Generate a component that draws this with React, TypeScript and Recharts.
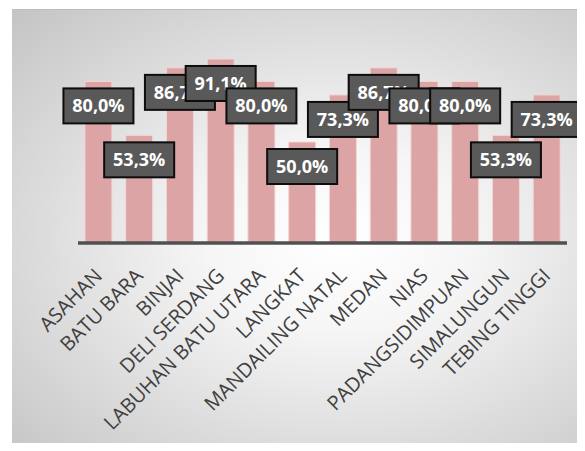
import React from "react";
import { BarChart, Bar, XAxis, YAxis, LabelList } from "recharts";

// Regional percentages (share of respondents), North Sumatra
const regions = [
  "ASAHAN",
  "BATU BARA",
  "BINJAI",
  "DELI SERDANG",
  "LABUHAN BATU UTARA",
  "LANGKAT",
  "MANDAILING NATAL",
  "MEDAN",
  "NIAS",
  "PADANGSIDIMPUAN",
  "SIMALUNGUN",
  "TEBING TINGGI",
];
const percentages = [80.0, 53.3, 86.7, 91.1, 80.0, 50.0, 73.3, 86.7, 80.0, 80.0, 53.3, 73.3];

const data = regions.map((name, i) => ({ name, value: percentages[i] }));

const formatPct = (v: number) => v.toFixed(1).replace(".", ",") + "%";

const ValueBadge = (props: any) => {
  const { x, y, width, value } = props;
  const cx = x + width / 2;
  const cy = y + 24.5;
  return (
    <g>
      <rect
        x={cx - 35}
        y={cy - 17.5}
        width={70}
        height={35}
        fill="#595959"
        stroke="#0d0d0d"
        strokeWidth={2}
      />
      <text
        x={cx}
        y={cy + 6.5}
        textAnchor="middle"
        fill="#ffffff"
        fontFamily="'Open Sans', sans-serif"
        fontWeight={700}
        fontSize={18}
      >
        {formatPct(value)}
      </text>
    </g>
  );
};

const RegionTick = (props: any) => {
  const { x, y, payload } = props;
  return (
    <g transform={`translate(${x + 5},${y + 26})`}>
      <text
        x={0}
        y={0}
        textAnchor="end"
        transform="rotate(-45)"
        fill="#404040"
        fontFamily="'Open Sans', sans-serif"
        fontSize={20}
      >
        {payload.value}
      </text>
    </g>
  );
};

export default function App() {
  return (
    <div style={{ position: "relative", width: 585, height: 451, margin: -8, overflow: "hidden", background: "#ffffff" }}>
      <div
        style={{
          position: "absolute",
          left: 12,
          top: 9,
          right: 0,
          bottom: 0,
          borderTop: "1px solid #bdbdbd",
          background:
            "radial-gradient(ellipse farthest-corner at 57% 52%, #ffffff 0%, #f6f6f6 28%, #dedede 62%, #c4c4c4 100%)",
        }}
      />
      <div style={{ position: "absolute", left: 0, top: 0 }}>
        <BarChart
          width={585}
          height={451}
          data={data}
          margin={{ top: 41, right: 18, bottom: 0, left: 78 }}
          barCategoryGap="17%"
        >
          <YAxis hide domain={[0, 100]} />
          <XAxis
            dataKey="name"
            interval={0}
            tickLine={false}
            axisLine={{ stroke: "#505050", strokeWidth: 3.5 }}
            height={208}
            tick={<RegionTick />}
          />
          <Bar dataKey="value" fill="#dca4a4" stroke="#f2d8d8" strokeWidth={1} isAnimationActive={false}>
            <LabelList dataKey="value" content={<ValueBadge />} />
          </Bar>
        </BarChart>
      </div>
    </div>
  );
}
